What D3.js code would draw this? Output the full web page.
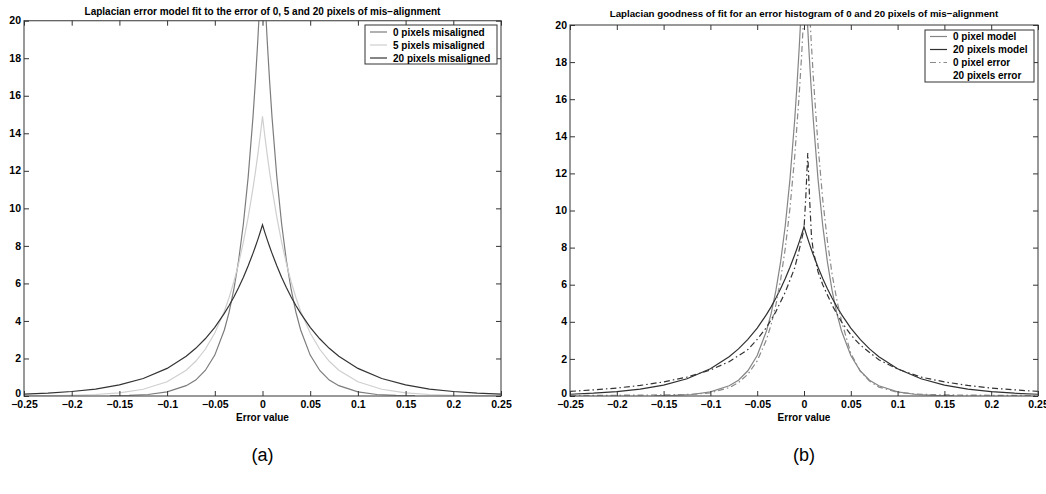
<!DOCTYPE html>
<html><head><meta charset="utf-8">
<script src="https://cdn.jsdelivr.net/npm/d3@7"></script>
<style>
html,body{margin:0;padding:0;background:#fff;}
svg{display:block;font-family:"Liberation Sans",Arial,Helvetica,sans-serif;}
</style></head>
<body>
<svg id="chart" width="1046" height="494"></svg>
<script>
// ---------- data ----------
const xTicks = [-0.25,-0.2,-0.15,-0.1,-0.05,0,0.05,0.1,0.15,0.2,0.25];
const xTickLabels = ["\u22120.25","\u22120.2","\u22120.15","\u22120.1","\u22120.05","0","0.05","0.1","0.15","0.2","0.25"];
const yTicks = [0,2,4,6,8,10,12,14,16,18,20];
const yTickLabels = ["0","2","4","6","8","10","12","14","16","18","20"];

// x positions of the wide fitted models
const xWide = [-0.25,-0.225,-0.2,-0.175,-0.15,-0.125,-0.1,-0.08,-0.07,-0.06,-0.05,-0.04,-0.035,-0.03,-0.025,-0.02,-0.015,-0.01,-0.0075,-0.005,-0.0025,0,
               0.0025,0.005,0.0075,0.01,0.015,0.02,0.025,0.03,0.035,0.04,0.05,0.06,0.07,0.08,0.1,0.125,0.15,0.175,0.2,0.225,0.25];
// 20 pixels misaligned (model)
const fit20 = [0.095,0.15,0.24,0.37,0.59,0.93,1.47,2.12,2.54,3.05,3.66,4.40,4.82,5.28,5.78,6.33,6.94,7.60,7.95,8.32,8.71,9.12,
               8.71,8.32,7.95,7.60,6.94,6.33,5.78,5.28,4.82,4.40,3.66,3.05,2.54,2.12,1.47,0.93,0.59,0.37,0.24,0.15,0.095];
// 5 pixels misaligned (model)
const fit5 = [0.009,0.018,0.038,0.081,0.17,0.36,0.76,1.37,1.85,2.49,3.36,4.52,5.25,6.09,7.07,8.21,9.53,11.06,11.92,12.84,13.83,14.9,
              13.83,12.84,11.92,11.06,9.53,8.21,7.07,6.09,5.25,4.52,3.36,2.49,1.85,1.37,0.76,0.36,0.17,0.081,0.038,0.018,0.009];
// x positions of the narrow 0-pixel model
const xNarrow = [-0.16,-0.14,-0.12,-0.1,-0.08,-0.07,-0.06,-0.05,-0.04,-0.035,-0.03,-0.025,-0.02,-0.015,-0.01,-0.0075,-0.005,-0.0025,0,
                 0.0025,0.005,0.0075,0.01,0.015,0.02,0.025,0.03,0.035,0.04,0.05,0.06,0.07,0.08,0.1,0.12,0.14,0.16];
// 0 pixels misaligned (model)
const fit0 = [0.02,0.03,0.08,0.22,0.55,0.85,1.36,2.18,3.52,4.47,5.69,7.23,9.19,11.68,14.85,16.74,18.88,21.29,24,
              21.29,18.88,16.74,14.85,11.68,9.19,7.23,5.69,4.47,3.52,2.18,1.36,0.85,0.55,0.22,0.08,0.03,0.02];
// 0 pixel error histogram
const xErr0 = [-0.25,-0.2,-0.15,-0.12,-0.1,-0.08,-0.07,-0.06,-0.05,-0.04,-0.035,-0.03,-0.025,-0.02,-0.015,-0.01,-0.005,-0.0025,0,
               0.0025,0.005,0.0075,0.01,0.015,0.02,0.025,0.03,0.035,0.04,0.05,0.06,0.07,0.08,0.1,0.12,0.15,0.2,0.25];
const err0 = [0.03,0.04,0.06,0.09,0.17,0.45,0.72,1.17,1.89,3.05,3.87,4.92,6.26,7.96,10.12,12.86,16.35,18.4,20.8,
              27,21.8,19.3,17.15,13.5,10.6,8.35,6.57,5.2,4.06,2.3,1.35,0.8,0.48,0.2,0.1,0.06,0.04,0.03];
// 20 pixels error histogram
const xErr20 = [-0.25,-0.225,-0.2,-0.175,-0.15,-0.125,-0.1,-0.08,-0.06,-0.05,-0.04,-0.03,-0.02,-0.01,-0.005,0,
                0.002,0.004,0.006,0.008,0.01,0.015,0.02,0.03,0.04,0.05,0.06,0.08,0.1,0.125,0.15,0.175,0.2,0.225,0.25];
const err20 = [0.25,0.33,0.43,0.57,0.76,1.02,1.4,1.85,2.5,3.05,3.7,4.55,5.6,6.9,7.9,9.0,
               10.8,13.1,10.6,8.6,7.8,6.7,6.0,4.9,4.0,3.3,2.75,1.95,1.45,1.02,0.76,0.57,0.43,0.33,0.25];

const titleA = "Laplacian error model fit to the error of 0, 5 and 20 pixels of mis\u2212alignment";
const titleB = "Laplacian goodness of fit for an error histogram of 0 and 20 pixels of mis\u2212alignment";
const xLabel = "Error value";
const seriesA = [
  {name:"0 pixels misaligned", x:xNarrow, y:fit0, color:"#7c7c7c", dash:null},
  {name:"5 pixels misaligned", x:xWide, y:fit5, color:"#cfcfcf", dash:null},
  {name:"20 pixels misaligned", x:xWide, y:fit20, color:"#333333", dash:null}
];
const seriesB = [
  {name:"0 pixel model", x:xNarrow, y:fit0, color:"#858585", dash:null, legendLine:true},
  {name:"20 pixels model", x:xWide, y:fit20, color:"#303030", dash:null, legendLine:true},
  {name:"0 pixel error", x:xErr0, y:err0, color:"#8a8a8a", dash:"6,3,1.5,3", legendLine:true},
  {name:"20 pixels error", x:xErr20, y:err20, color:"#333333", dash:"6,3,1.5,3", legendLine:false}
];

// ---------- drawing ----------
const svg = d3.select("#chart");

function fitText(sel, target) {
  const w = sel.node().getComputedTextLength();
  const fs = parseFloat(sel.style("font-size"));
  if (w > 0) sel.style("font-size", (fs * target / w).toFixed(2) + "px");
}

function panel(id, box, title, titleY, titleW, series, legend, subLabel) {
  const x = d3.scaleLinear().domain([-0.25,0.25]).range([box.l, box.r]);
  const y = d3.scaleLinear().domain([0,20]).range([box.b, box.t]);
  const g = svg.append("g");

  g.append("clipPath").attr("id","clip"+id).append("rect")
    .attr("x",box.l).attr("y",box.t).attr("width",box.r-box.l).attr("height",box.b-box.t);

  const line = d3.line().x(d=>x(d[0])).y(d=>y(d[1]));
  const lg = g.append("g").attr("clip-path","url(#clip"+id+")");
  series.forEach(s=>{
    const pts = s.x.map((v,i)=>[v,s.y[i]]);
    lg.append("path").attr("d",line(pts)).attr("fill","none")
      .attr("stroke",s.color).attr("stroke-width",1.2)
      .attr("stroke-dasharray",s.dash);
  });

  // frame
  g.append("rect").attr("x",box.l).attr("y",box.t).attr("width",box.r-box.l).attr("height",box.b-box.t)
    .attr("fill","none").attr("stroke","#555").attr("stroke-width",1.2);

  // ticks (inward on all sides)
  const tl = 5;
  const axB = d3.axisBottom(x).tickValues(xTicks).tickSize(-tl).tickFormat((d,i)=>xTickLabels[i]).tickPadding(3);
  const axT = d3.axisTop(x).tickValues(xTicks).tickSize(-tl).tickFormat("");
  const axL = d3.axisLeft(y).tickValues(yTicks).tickSize(-tl).tickFormat((d,i)=>yTickLabels[i]).tickPadding(3);
  const axR = d3.axisRight(y).tickValues(yTicks).tickSize(-tl).tickFormat("");
  const gb = g.append("g").attr("transform",`translate(0,${box.b})`).call(axB);
  const gt = g.append("g").attr("transform",`translate(0,${box.t})`).call(axT);
  const gl = g.append("g").attr("transform",`translate(${box.l},0)`).call(axL);
  const gr = g.append("g").attr("transform",`translate(${box.r},0)`).call(axR);
  [gb,gt,gl,gr].forEach(a=>{
    a.select(".domain").remove();
    a.selectAll(".tick line").attr("stroke","#333").attr("stroke-width",1);
    a.selectAll("text").attr("fill","#000").style("font-size","10.5px").style("font-weight","bold")
      .style("font-family","'Liberation Sans',Arial,sans-serif");
  });
  gb.selectAll(".tick text").attr("y", 5).attr("dy","0.71em");
  gl.selectAll(".tick text").attr("dy", d => d === 0 ? "0.05em" : "0.3em");

  // title
  const t = g.append("text").attr("x",(box.l+box.r)/2).attr("y",titleY).attr("text-anchor","middle")
    .style("font-size","10px").style("font-weight","bold").text(title);
  fitText(t, titleW);
  // x label
  g.append("text").attr("x",(box.l+box.r)/2).attr("y",421).attr("text-anchor","middle")
    .style("font-size","10px").style("font-weight","bold").text(xLabel);
  // (a)/(b)
  g.append("text").attr("x",(box.l+box.r)/2).attr("y",461).attr("text-anchor","middle")
    .style("font-size","18px").text(subLabel);

  // legend
  const L = legend;
  const lgd = g.append("g");
  lgd.append("rect").attr("x",L.x).attr("y",L.y).attr("width",L.w).attr("height",L.h)
    .attr("fill","#fff").attr("stroke","#333").attr("stroke-width",1);
  series.forEach((s,i)=>{
    const cy = L.y + L.pad + i*L.step;
    if (s.legendLine !== false) {
      lgd.append("line").attr("x1",L.x+5).attr("x2",L.x+22).attr("y1",cy).attr("y2",cy)
        .attr("stroke",s.color).attr("stroke-width",1.2).attr("stroke-dasharray",s.dash);
    }
    lgd.append("text").attr("x",L.x+28).attr("y",cy).attr("dy","0.35em")
      .style("font-size","10px").style("font-weight","bold").text(s.name);
  });
}

panel("A",{l:24,r:501,t:20.7,b:396}, titleA, 14.5, 356, seriesA,
      {x:365,y:25,w:132,h:39,pad:7,step:13}, "(a)");
panel("B",{l:570,r:1038,t:25,b:396}, titleB, 17, 389, seriesB,
      {x:925,y:30,w:109,h:52,pad:6.5,step:13}, "(b)");
</script>
</body></html>
